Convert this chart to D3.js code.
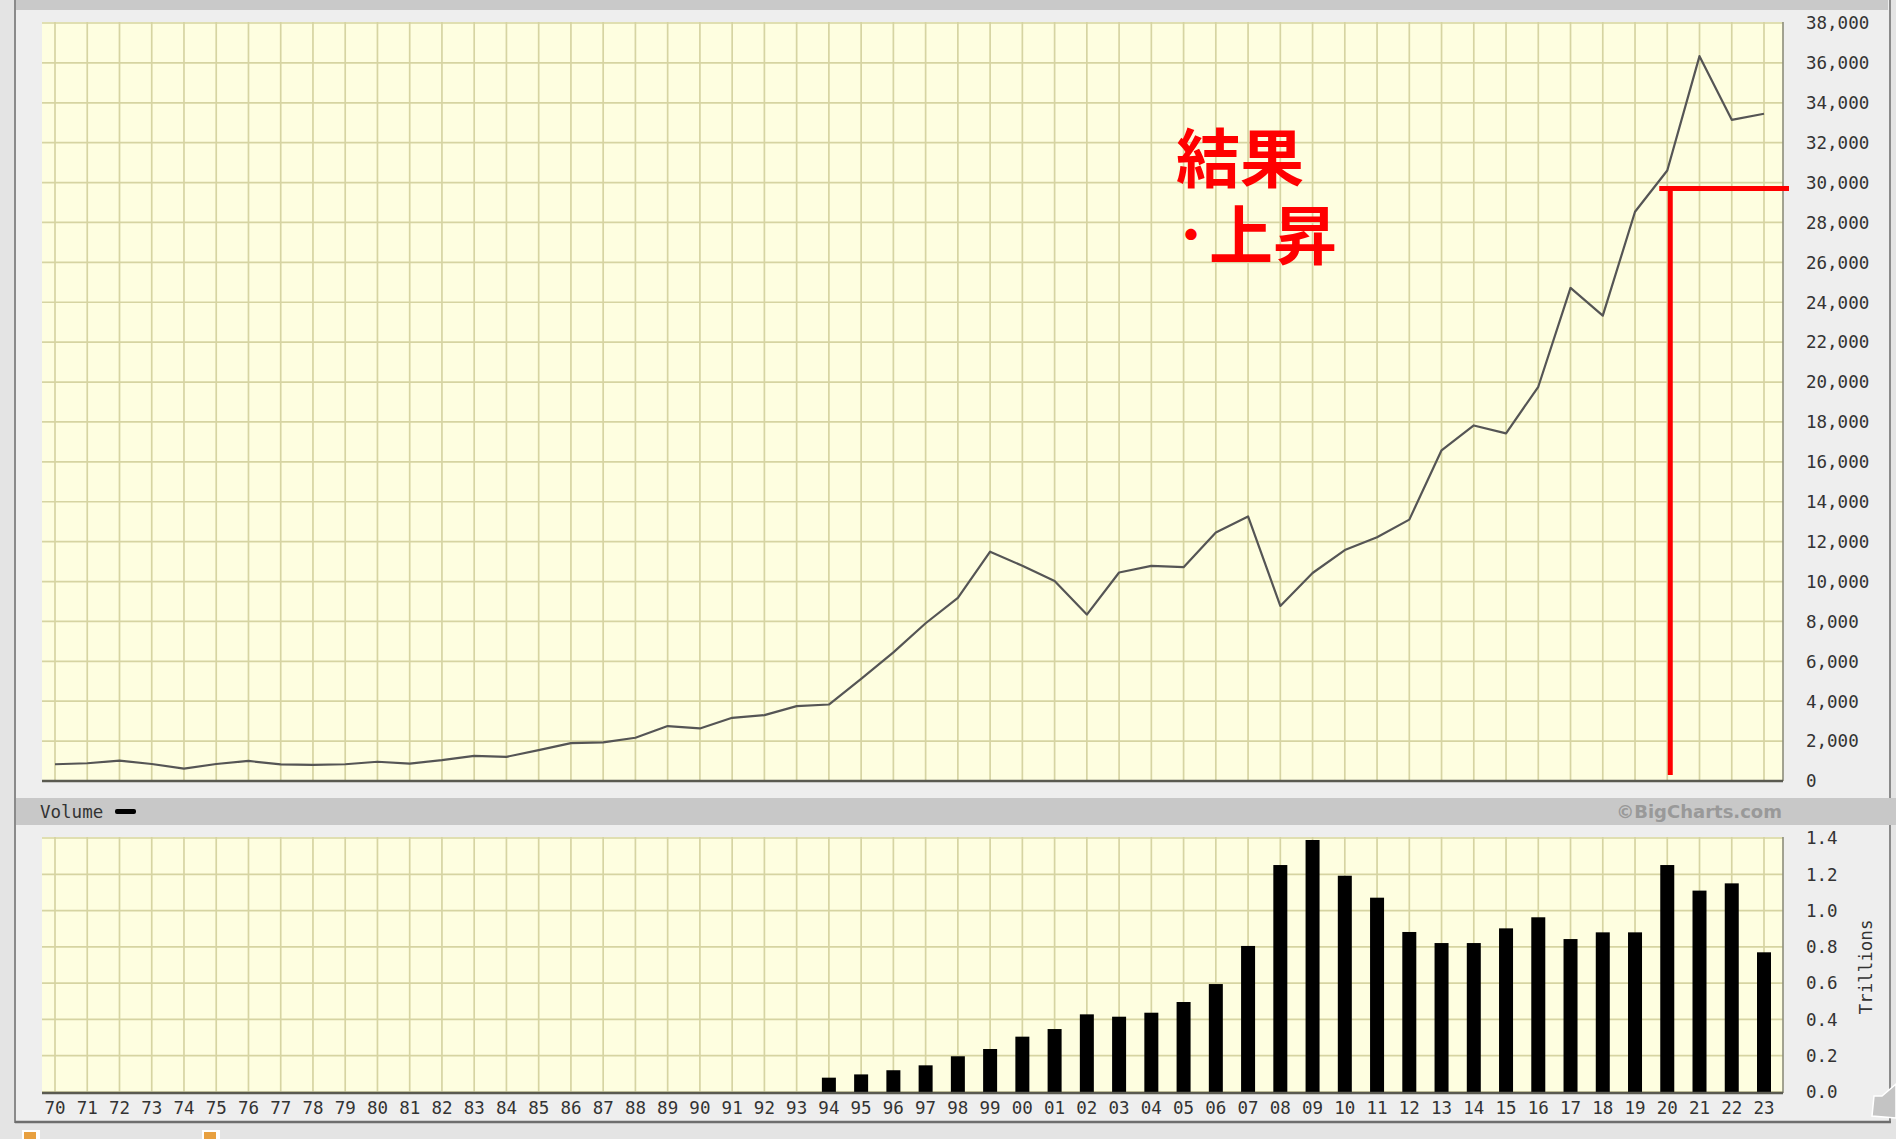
<!DOCTYPE html>
<html>
<head>
<meta charset="utf-8">
<script src="https://cdn.jsdelivr.net/npm/d3@7"></script>
<style>
  body { margin: 0; background: #e4e4e4; }
  svg { display: block; }
  .lbl { font-family: "DejaVu Sans Mono", monospace; font-size: 17.5px; fill: #333; }
  .note { font-family: "Noto Sans CJK JP", sans-serif; font-weight: bold; font-size: 64px; fill: #ff0000; }
</style>
</head>
<body>
<svg id="chart" width="1896" height="1139"></svg>
<script>
// year tick labels 1970 .. 2023
var years = ['70','71','72','73','74','75','76','77','78','79',
             '80','81','82','83','84','85','86','87','88','89',
             '90','91','92','93','94','95','96','97','98','99',
             '00','01','02','03','04','05','06','07','08','09',
             '10','11','12','13','14','15','16','17','18','19',
             '20','21','22','23'];

// yearly close
var closes = [839, 890, 1020, 851, 616, 852, 1005, 831, 805, 839,
              964, 875, 1047, 1259, 1212, 1547, 1896, 1939, 2169, 2753,
              2634, 3169, 3301, 3754, 3834, 5117, 6448, 7908, 9181, 11497,
              10787, 10022, 8342, 10454, 10783, 10718, 12463, 13265, 8776, 10428,
              11578, 12218, 13104, 16577, 17823, 17425, 19763, 24719, 23327, 28538,
              30606, 36338, 33147, 33450];

// volume (trillions), only from 94 on
var volYears = ['94','95','96','97','98','99','00','01','02','03',
                '04','05','06','07','08','09','10','11','12','13',
                '14','15','16','17','18','19','20','21','22','23'];
var volumes = [0.079, 0.097, 0.12, 0.147, 0.197, 0.237, 0.305, 0.347, 0.428, 0.415,
               0.437, 0.496, 0.595, 0.805, 1.251, 1.389, 1.192, 1.071, 0.882, 0.821,
               0.821, 0.902, 0.963, 0.843, 0.88, 0.88, 1.251, 1.11, 1.15, 0.77];

var priceTicks = [0, 2000, 4000, 6000, 8000, 10000, 12000, 14000, 16000, 18000,
                  20000, 22000, 24000, 26000, 28000, 30000, 32000, 34000, 36000, 38000];
var volTicks = [0, 0.2, 0.4, 0.6, 0.8, 1.0, 1.2, 1.4];

// annotation
var markYear = '20';
var markLevel = 29700;

var svg = d3.select('#chart');

var plotL = 42, plotR = 1783;
var x = d3.scalePoint().domain(years).range([55, 1764]);
var y = d3.scaleLinear().domain([0, 38000]).range([781, 23]);
var yv = d3.scaleLinear().domain([0, 1.4]).range([1092, 838]);

// panel frame
svg.append('rect').attr('x', 16).attr('y', 0).attr('width', 1874).attr('height', 1122).attr('fill', '#eeeeee');
svg.append('rect').attr('x', 16).attr('y', 0).attr('width', 1872).attr('height', 10).attr('fill', '#c9c9c9');
svg.append('line').attr('x1', 15).attr('x2', 15).attr('y1', 0).attr('y2', 1123)
    .attr('stroke', '#8a8a8a').attr('stroke-width', 2);
svg.append('line').attr('x1', 1890).attr('x2', 1890).attr('y1', 0).attr('y2', 1123)
    .attr('stroke', '#8a8a8a').attr('stroke-width', 2);
svg.append('line').attr('x1', 15).attr('x2', 1891).attr('y1', 1122).attr('y2', 1122)
    .attr('stroke', '#6e6e6e').attr('stroke-width', 2.5);

// volume band
svg.append('rect').attr('x', 16).attr('y', 798).attr('width', 1880).attr('height', 27).attr('fill', '#c8c8c8');

var drawPanel = function(top, bottom, yScale, ticks) {
    var g = svg.append('g');
    g.append('rect').attr('x', plotL).attr('y', top).attr('width', plotR - plotL)
        .attr('height', bottom - top).attr('fill', '#fefee0');

    g.selectAll('.hgrid').data(ticks).enter().append('line')
        .attr('x1', plotL).attr('x2', plotR)
        .attr('y1', function(d){return yScale(d);})
        .attr('y2', function(d){return yScale(d);})
        .attr('stroke', '#d6d4a2').attr('stroke-width', 1.7);

    g.selectAll('.vgrid').data(years).enter().append('line')
        .attr('x1', function(d){return x(d);})
        .attr('x2', function(d){return x(d);})
        .attr('y1', top).attr('y2', bottom)
        .attr('stroke', '#d6d4a2').attr('stroke-width', 1.7);

    g.append('line').attr('x1', plotR).attr('x2', plotR).attr('y1', top).attr('y2', bottom)
        .attr('stroke', '#8c8c7a').attr('stroke-width', 1.6);

    g.selectAll('.ylbl').data(ticks).enter().append('text')
        .attr('class', 'lbl')
        .attr('x', 1806)
        .attr('y', function(d){return yScale(d);})
        .attr('dy', '0.36em')
        .text(function(d){ return yScale === y ? d3.format(',')(d) : d3.format('.1f')(d); });
    return g;
};

// price panel
var gp = drawPanel(22, 781, y, priceTicks);

var line = d3.line()
    .x(function(d, i){return x(years[i]);})
    .y(function(d){return y(d);});

gp.append('path').datum(closes)
    .attr('d', line)
    .attr('fill', 'none')
    .attr('stroke', '#555555')
    .attr('stroke-width', 2.2)
    .attr('stroke-linejoin', 'round');

gp.append('line').attr('x1', plotL).attr('x2', plotR).attr('y1', 781).attr('y2', 781)
    .attr('stroke', '#5a5a50').attr('stroke-width', 2.5);

// volume panel
var gv = drawPanel(837, 1093, yv, volTicks);

gv.selectAll('.bar').data(volumes).enter().append('rect')
    .attr('x', function(d, i){return x(volYears[i]) - 7;})
    .attr('width', 14)
    .attr('y', function(d){return yv(d);})
    .attr('height', function(d){return yv(0) - yv(d);})
    .attr('fill', '#000');

gv.append('line').attr('x1', plotL).attr('x2', plotR).attr('y1', 1093).attr('y2', 1093)
    .attr('stroke', '#5a5a50').attr('stroke-width', 2.5);

// year labels
svg.selectAll('.xlbl').data(years).enter().append('text')
    .attr('class', 'lbl')
    .attr('x', function(d){return x(d);})
    .attr('y', 1114)
    .attr('text-anchor', 'middle')
    .text(function(d){return d;});

// volume legend and credit
svg.append('text').attr('class', 'lbl').attr('x', 40).attr('y', 818).text('Volume');
svg.append('rect').attr('x', 115).attr('y', 809).attr('width', 21).attr('height', 5)
    .attr('rx', 2).attr('fill', '#000');
svg.append('text').attr('x', 1782).attr('y', 818).attr('text-anchor', 'end')
    .style('font-family', '"DejaVu Sans", Verdana, sans-serif')
    .style('font-weight', 'bold').style('font-size', '18px')
    .attr('fill', '#999999')
    .text('\u00a9BigCharts.com');

svg.append('text').attr('class', 'lbl')
    .attr('transform', 'translate(1872,967) rotate(-90)')
    .attr('text-anchor', 'middle')
    .text('Trillions');

// scroll tab bottom right
svg.append('path').attr('d', 'M1896,1084 L1882,1096 L1874,1096 L1872,1116 L1896,1118 Z')
    .attr('fill', '#c4c4c4').attr('stroke', '#ffffff').attr('stroke-width', 1.5);

// little icons under the panel
[22, 202].forEach(function(ix){
    svg.append('rect').attr('x', ix).attr('y', 1130).attr('width', 18).attr('height', 12).attr('fill', '#fff');
    svg.append('rect').attr('x', ix + 2).attr('y', 1132).attr('width', 12).attr('height', 8).attr('fill', '#e8a040');
});

// red annotation
var mx = x(markYear) + 3;
svg.append('line')
    .attr('x1', mx - 11).attr('x2', plotR + 6)
    .attr('y1', y(markLevel)).attr('y2', y(markLevel))
    .attr('stroke', '#ff0000').attr('stroke-width', 5);
svg.append('line')
    .attr('x1', mx).attr('x2', mx)
    .attr('y1', y(markLevel)).attr('y2', y(300))
    .attr('stroke', '#ff0000').attr('stroke-width', 5);

svg.append('text').attr('class', 'note').attr('x', 1176).attr('y', 182).text('結果');
var note2 = svg.append('text').attr('class', 'note').attr('y', 259);
note2.append('tspan').attr('x', 1169).attr('y', 251).style('font-size', '44px').text('・');
note2.append('tspan').attr('x', 1209).attr('y', 259).text('上昇');
</script>
</body>
</html>
